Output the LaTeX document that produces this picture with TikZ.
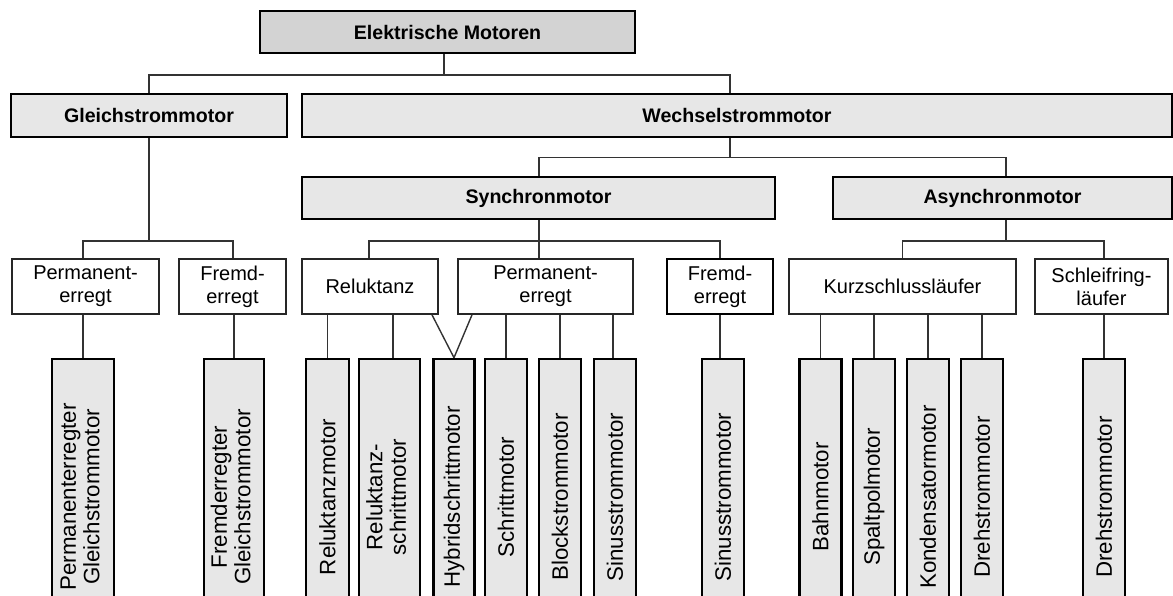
\documentclass[tikz,border=0pt]{standalone}
\usepackage{fontspec}
\setmainfont{Liberation Sans}
\definecolor{topgray}{HTML}{D3D3D3}
\definecolor{boxgray}{HTML}{E7E7E7}
\definecolor{linegray}{HTML}{333333}
\begin{document}
\begin{tikzpicture}[x=1pt,y=-1pt,
  topbox/.style={draw=black, line width=2.6pt, fill=topgray, inner sep=0pt, font=\fontsize{19.6}{22}\selectfont\bfseries},
  headbox/.style={draw=black, line width=2.6pt, fill=boxgray, inner sep=0pt, font=\fontsize{19.6}{22}\selectfont\bfseries},
  subbox/.style={draw=black!85, line width=1.7pt, fill=white, inner sep=0pt, align=center, font=\fontsize{20}{23}\selectfont},
  leafbox/.style={draw=black, line width=2.6pt, fill=boxgray, inner sep=0pt, minimum height=276pt, font=\fontsize{22.3}{23.5}\selectfont},
  conn/.style={draw=linegray, line width=1.4pt}]
\useasboundingbox (0,0) rectangle (1173,595);
\clip (0,0) rectangle (1173,595);
% level 1 and 2
\node[topbox, minimum width=375pt, minimum height=42pt] (em) at (447.5,32) {Elektrische Motoren};
\node[headbox, minimum width=276pt, minimum height=43pt] (gl) at (149,115.5) {Gleichstrommotor};
\node[headbox, minimum width=870pt, minimum height=43pt] (wm) at (737,115.5) {Wechselstrommotor};
\node[headbox, minimum width=473pt, minimum height=42pt] (sy) at (538.5,198) {Synchronmotor};
\node[headbox, minimum width=339pt, minimum height=42pt] (as) at (1002.5,198) {Asynchronmotor};
% level 3
\node[subbox, minimum width=147pt, minimum height=55pt] (pe1) at (85.5,286.5) {Permanent-\\erregt};
\node[subbox, minimum width=107pt, minimum height=55pt] (fe1) at (232.5,286.5) {Fremd-\\erregt};
\node[subbox, minimum width=136pt, minimum height=55pt] (rel) at (370,286.5) {Reluktanz};
\node[subbox, minimum width=175pt, minimum height=55pt] (pe2) at (545.5,286.5) {Permanent-\\erregt};
\node[subbox, line width=2.6pt, draw=black, minimum width=106pt, minimum height=55pt] (fe2) at (720,286.5) {Fremd-\\erregt};
\node[subbox, minimum width=227pt, minimum height=55pt] (ks) at (902.5,286.5) {Kurzschlussläufer};
\node[subbox, minimum width=133pt, minimum height=55pt] (sr) at (1101.5,286.5) {Schleifring-\\läufer};
% leaves
\node[leafbox, minimum width=62pt] (b1) at (83,497) {\rotatebox{90}{\begin{tabular}{@{}c@{}}Permanenterregter\\Gleichstrommotor\end{tabular}}};
\node[leafbox, minimum width=60pt] (b2) at (234,497) {\rotatebox{90}{\begin{tabular}{@{}c@{}}Fremderregter\\Gleichstrommotor\end{tabular}}};
\node[leafbox, minimum width=43pt] (b3) at (327.5,497) {\rotatebox{90}{Reluktanzmotor}};
\node[leafbox, minimum width=61pt] (b4) at (389.5,497) {\rotatebox{90}{\begin{tabular}{@{}c@{}}Reluktanz-\\schrittmotor\end{tabular}}};
\node[leafbox, minimum width=41pt] (b5) at (454,497) {\rotatebox{90}{Hybridschrittmotor}};
\node[leafbox, minimum width=42pt] (b6) at (506,497) {\rotatebox{90}{Schrittmotor}};
\node[leafbox, minimum width=42pt] (b7) at (560,497) {\rotatebox{90}{Blockstrommotor}};
\node[leafbox, minimum width=42pt] (b8) at (615,497) {\rotatebox{90}{Sinusstrommotor}};
\node[leafbox, minimum width=42pt] (b9) at (723,497) {\rotatebox{90}{Sinusstrommotor}};
\node[leafbox, minimum width=42pt] (b10) at (820.5,497) {\rotatebox{90}{Bahnmotor}};
\node[leafbox, minimum width=42pt] (b11) at (874,497) {\rotatebox{90}{Spaltpolmotor}};
\node[leafbox, minimum width=42pt] (b12) at (928,497) {\rotatebox{90}{Kondensatormotor}};
\node[leafbox, minimum width=42pt] (b13) at (982,497) {\rotatebox{90}{Drehstrommotor}};
\node[leafbox, minimum width=42pt] (b14) at (1104,497) {\rotatebox{90}{Drehstrommotor}};
% connectors level 1 -> 2
\draw[conn] (em.south -| 444,0) -- (444,75);
\draw[conn] (gl.north) |- (730,75) -- (wm.north -| 730,0);
% Wechselstrom -> Synchron/Asynchron
\draw[conn] (wm.south -| 730,0) -- (730,157.7);
\draw[conn] (sy.north -| 539,0) |- (1006,157.7) -- (as.north -| 1006,0);
% Gleichstrom children
\draw[conn] (gl.south) -- (149,241);
\draw[conn] (pe1.north -| 83,0) |- (233,241) -- (fe1.north -| 233,0);
% Synchron children
\draw[conn] (sy.south -| 539,0) -- (pe2.north -| 539,0);
\draw[conn] (rel.north -| 369,0) |- (720,241) -- (fe2.north);
% Asynchron children
\draw[conn] (as.south -| 1006,0) -- (1006,241);
\draw[conn] (ks.north) |- (1104,241) -- (sr.north -| 1104,0);
% leaves
\draw[conn] (b1.north) -- (b1.north |- pe1.south);
\draw[conn] (b2.north) -- (b2.north |- fe1.south);
\draw[conn] (b3.north) -- (b3.north |- rel.south);
\draw[conn] (b4.north -| 393,0) -- (rel.south -| 393,0);
\draw[conn] (rel.south -| 432,0) -- (b5.north);
\draw[conn] (pe2.south -| 472,0) -- (b5.north);
\draw[conn] (b6.north) -- (b6.north |- pe2.south);
\draw[conn] (b7.north) -- (b7.north |- pe2.south);
\draw[conn] (b8.north -| 613,0) -- (pe2.south -| 613,0);
\draw[conn] (b9.north -| 720,0) -- (fe2.south);
\draw[conn] (b10.north) -- (b10.north |- ks.south);
\draw[conn] (b11.north) -- (b11.north |- ks.south);
\draw[conn] (b12.north) -- (b12.north |- ks.south);
\draw[conn] (b13.north) -- (b13.north |- ks.south);
\draw[conn] (b14.north) -- (b14.north |- sr.south);
\end{tikzpicture}
\end{document}
